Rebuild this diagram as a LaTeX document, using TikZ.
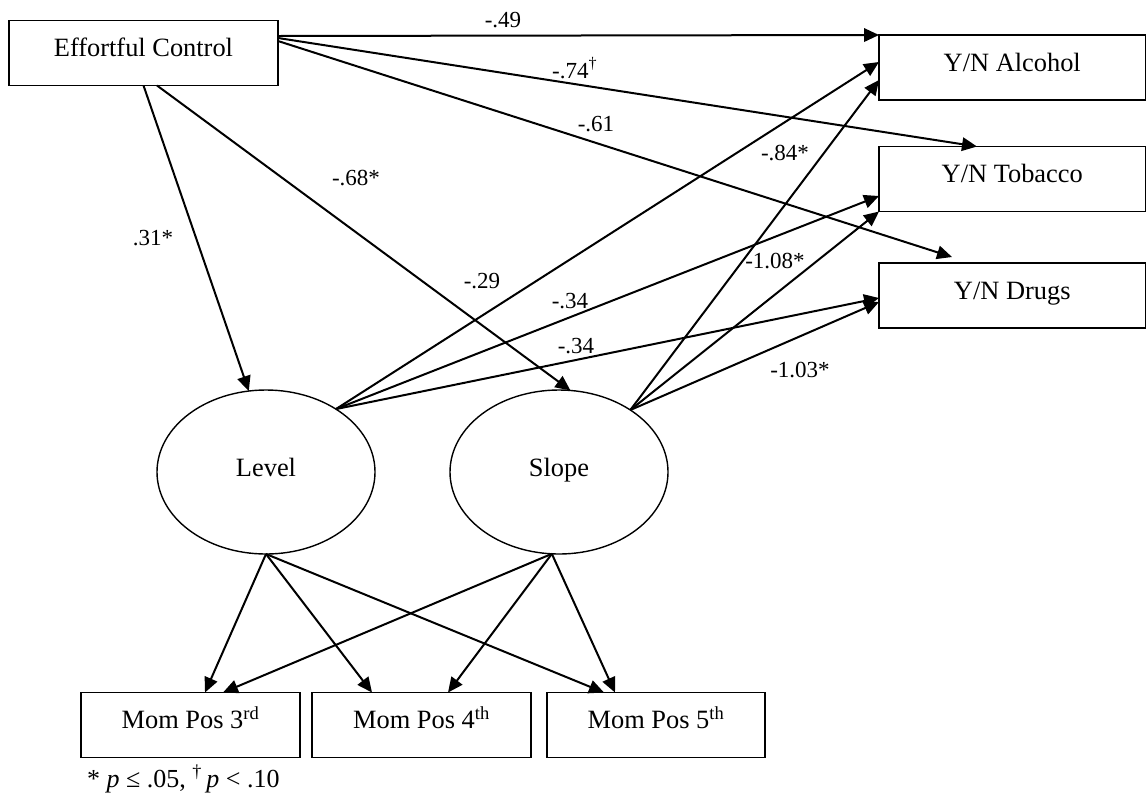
\documentclass[tikz,border=0pt]{standalone}
\usepackage{fontspec}
\setmainfont{Liberation Serif}
\usetikzlibrary{arrows.meta,shapes.geometric}
\begin{document}
\begin{tikzpicture}[x=1pt,y=-1pt,
  box/.style={draw,line width=1.5pt,inner sep=0pt,outer sep=0pt,text height=36pt,text depth=29pt,font=\fontsize{26.4}{30}\selectfont},
  lat/.style={draw,ellipse,line width=1.4pt,inner sep=0pt,outer sep=0pt,minimum width=218pt,minimum height=164pt,text height=18pt,text depth=8.6pt,font=\fontsize{26.4}{30}\selectfont},
  arr/.style={-{Triangle[length=15pt,width=13.5pt]},line width=2pt},
  lbl/.style={font=\fontsize{23}{26}\selectfont,anchor=base,inner sep=0pt}]
\useasboundingbox (0,0) rectangle (1147,796);
\fill[white] (0,0) rectangle (1147,796);
% nodes
\node[box,minimum width=269pt] (ec) at (143.5,53) {Effortful Control};
\node[box,minimum width=266.5pt] (alc) at (1012.25,67.5) {Y/N Alcohol};
\node[box,minimum width=266.5pt] (tob) at (1012.25,179) {Y/N Tobacco};
\node[box,minimum width=266.5pt] (drg) at (1012.25,295.5) {Y/N Drugs};
\node[box,minimum width=219pt] (m3) at (190.5,725) {Mom Pos 3\textsuperscript{rd}};
\node[box,minimum width=219pt] (m4) at (421.5,725) {Mom Pos 4\textsuperscript{th}};
\node[box,minimum width=218pt] (m5) at (656,725) {Mom Pos 5\textsuperscript{th}};
\node[lat] (lev) at (266,472) {Level};
\node[lat] (slp) at (559,472) {Slope};
% connectors
\draw[arr] ([yshift=17pt]ec.east) -- (alc.north west);
\draw[arr] ([yshift=15pt]ec.east) -- ([xshift=98pt]tob.north west);
\draw[arr] ([yshift=12pt]ec.east) -- ([xshift=73pt,yshift=6pt]drg.north west);
\draw[arr] (ec.south) -- (lev.102);
\draw[arr] ([xshift=13.5pt]ec.south) -- (slp.82);
\draw[arr] (lev.42) -- ([yshift=5.5pt]alc.west);
\draw[arr] (lev.42) -- ([yshift=-17pt]tob.west);
\draw[arr] (lev.42) -- ([yshift=-2.5pt]drg.west);
\draw[arr] (slp.41) -- ([yshift=-12.5pt]alc.west);
\draw[arr] (slp.41) -- (tob.south west);
\draw[arr] (slp.41) -- ([yshift=-6.5pt]drg.west);
\draw[arr] (lev.south) -- ([xshift=14.5pt]m3.north);
\draw[arr] (lev.south) -- ([xshift=-49.5pt]m4.north);
\draw[arr] (lev.south) -- ([xshift=-52pt]m5.north);
\draw[arr] (slp.265) -- ([xshift=32.5pt]m3.north);
\draw[arr] (slp.265) -- ([xshift=26.5pt]m4.north);
\draw[arr] (slp.265) -- ([xshift=-41pt]m5.north);
% labels
\node[lbl] (l49) at (503,27.5) {-.49};
\node[lbl,anchor=base west] (l74) at (552,78) {-.74\textsuperscript{†}};
\node[lbl] (l61) at (596,131) {-.61};
\node[lbl] (l68) at (356,185.5) {-.68*};
\node[lbl] (l31) at (153,245) {.31*};
\node[lbl] (l29) at (482,288) {-.29};
\node[lbl] (l34a) at (570,308) {-.34};
\node[lbl] (l34b) at (576,353) {-.34};
\node[lbl] (l84) at (785,160) {-.84*};
\node[lbl] (l108) at (775,268) {-1.08*};
\node[lbl] (l103) at (800,377) {-1.03*};
\node[anchor=base west,inner sep=0pt,font=\fontsize{26}{30}\selectfont] (fn) at (87,787) {* \textit{p} ≤ .05, \textsuperscript{†}\,\textit{p} < .10};
\end{tikzpicture}
\end{document}
